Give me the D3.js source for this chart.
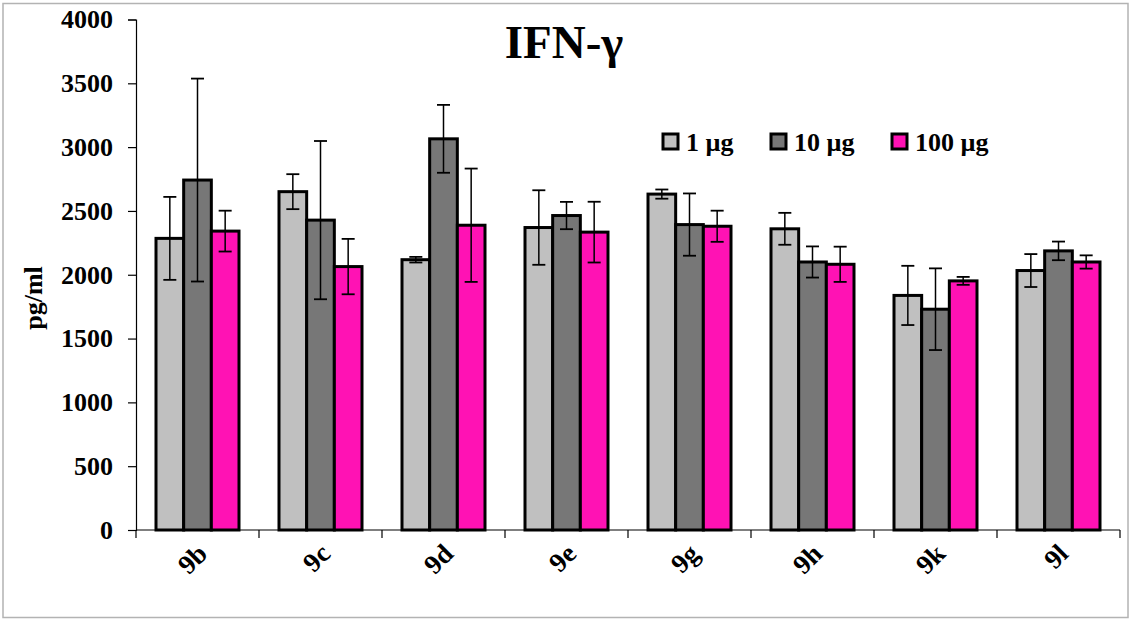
<!DOCTYPE html>
<html>
<head>
<meta charset="utf-8">
<script src="https://cdnjs.cloudflare.com/ajax/libs/d3/7.8.5/d3.min.js"></script>
<style>
	body { margin: 0; background: #fff; }
	svg text { font-family: "Liberation Serif", "Times New Roman", serif; font-weight: bold; }
</style>
</head>
<body>
<script>
// categories and series
var categories = ["9b", "9c", "9d", "9e", "9g", "9h", "9k", "9l"];
var seriesNames = ["1 µg", "10 µg", "100 µg"];
var seriesColors = ["#c0c0c0", "#777777", "#ff12b4"];

// mean values (pg/ml) per series
var values1 = [2285, 2651, 2118, 2370, 2632, 2360, 1838, 2033];
var values10 = [2742, 2428, 3065, 2464, 2393, 2100, 1730, 2187];
var values100 = [2342, 2064, 2388, 2334, 2380, 2082, 1952, 2100];

// error bar half-widths
var err1 = [325, 137, 22, 292, 36, 125, 232, 129];
var err10 = [795, 620, 266, 107, 244, 122, 320, 73];
var err100 = [160, 217, 444, 238, 122, 138, 31, 52];

var yTicks = [0, 500, 1000, 1500, 2000, 2500, 3000, 3500, 4000];

var allValues = [values1, values10, values100];
var allErrors = [err1, err10, err100];

var W = 1133, H = 620;
var plotLeft = 136, plotRight = 1120, plotTop = 19.5, plotBottom = 530;

var svg = d3.select("body").append("svg")
	.attr("width", W)
	.attr("height", H);

// outer frame
svg.append("rect")
	.attr("x", 3).attr("y", 3.5)
	.attr("width", 1125).attr("height", 614)
	.attr("fill", "none")
	.attr("stroke", "#b3b3b3")
	.attr("stroke-width", 1.5);

var x0 = d3.scaleBand().domain(categories).range([plotLeft, plotRight]).padding(0);
var x1 = d3.scaleBand().domain(d3.range(3)).range([20, x0.bandwidth() - 20]).padding(0);
var y = d3.scaleLinear().domain([0, 4000]).range([plotBottom, plotTop]);

// bars
var groups = svg.selectAll("g.cat")
	.data(categories)
	.enter().append("g")
	.attr("class", "cat")
	.attr("transform", function(d) { return "translate(" + x0(d) + ",0)"; });

groups.each(function(cat, ci) {
	var g = d3.select(this);
	for (var s = 0; s < 3; s++) {
		var v = allValues[s][ci];
		g.append("rect")
			.attr("x", x1(s))
			.attr("y", y(v))
			.attr("width", x1.bandwidth())
			.attr("height", y(0) - y(v))
			.attr("fill", seriesColors[s])
			.attr("stroke", "#000")
			.attr("stroke-width", 3);
	}
});

// error bars
groups.each(function(cat, ci) {
	var g = d3.select(this);
	for (var s = 0; s < 3; s++) {
		var v = allValues[s][ci], e = allErrors[s][ci];
		var cx = x1(s) + x1.bandwidth() / 2;
		g.append("line")
			.attr("x1", cx).attr("x2", cx)
			.attr("y1", y(v + e)).attr("y2", y(v - e))
			.attr("stroke", "#000").attr("stroke-width", 1.5);
		[v + e, v - e].forEach(function(t) {
			g.append("line")
				.attr("x1", cx - 6.5).attr("x2", cx + 6.5)
				.attr("y1", y(t)).attr("y2", y(t))
				.attr("stroke", "#000").attr("stroke-width", 1.8);
		});
	}
});

// y axis
var yAxis = d3.axisLeft(y).tickValues(yTicks).tickFormat(d3.format("d"))
	.tickSize(8).tickPadding(15);
var ya = svg.append("g")
	.attr("transform", "translate(" + plotLeft + ",0)")
	.call(yAxis);
ya.select(".domain").attr("stroke", "#000").attr("stroke-width", 1.2);
ya.selectAll(".tick line").attr("stroke", "#000").attr("stroke-width", 1.2);
ya.selectAll(".tick text")
	.style("font-size", "26px")
	.style("font-family", "'Liberation Serif', serif")
	.style("font-weight", "bold")
	.attr("fill", "#000");

// x axis line and separators
svg.append("line")
	.attr("x1", plotLeft).attr("x2", plotRight)
	.attr("y1", plotBottom).attr("y2", plotBottom)
	.attr("stroke", "#000").attr("stroke-width", 1.2);
svg.selectAll("line.sep")
	.data(categories.concat(["end"]))
	.enter().append("line")
	.attr("class", "sep")
	.attr("x1", function(d, i) { return plotLeft + i * x0.bandwidth(); })
	.attr("x2", function(d, i) { return plotLeft + i * x0.bandwidth(); })
	.attr("y1", plotBottom).attr("y2", plotBottom + 8)
	.attr("stroke", "#000").attr("stroke-width", 1.2);

// x labels, rotated
svg.selectAll("text.xl")
	.data(categories)
	.enter().append("text")
	.attr("class", "xl")
	.attr("text-anchor", "end")
	.style("font-size", "27px")
	.attr("transform", function(d) {
		return "translate(" + (x0(d) + x0.bandwidth() / 2 - 2) + "," + (plotBottom + 12) + ") rotate(-45)";
	})
	.attr("dy", "0.7em")
	.text(function(d) { return d; });

// y axis title
svg.append("text")
	.attr("transform", "translate(42,298) rotate(-90)")
	.attr("text-anchor", "middle")
	.style("font-size", "26px")
	.text("pg/ml");

// chart title
svg.append("text")
	.attr("x", 564).attr("y", 58)
	.attr("text-anchor", "middle")
	.style("font-size", "47px")
	.text("IFN-γ");

// legend
var legendX = [663, 771, 892];
seriesNames.forEach(function(name, i) {
	svg.append("rect")
		.attr("x", legendX[i]).attr("y", 134)
		.attr("width", 15).attr("height", 15)
		.attr("fill", seriesColors[i])
		.attr("stroke", "#000").attr("stroke-width", 3);
	svg.append("text")
		.attr("x", legendX[i] + 23).attr("y", 151)
		.style("font-size", "26px")
		.text(name);
});
</script>
</body>
</html>
